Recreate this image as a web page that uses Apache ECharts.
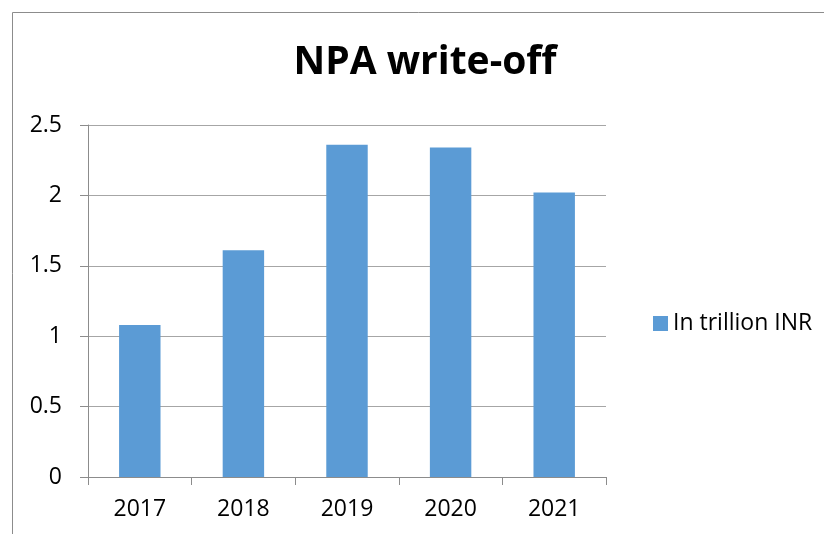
<!DOCTYPE html>
<html><head><meta charset="utf-8">
<script src="https://cdn.jsdelivr.net/npm/echarts@6/dist/echarts.min.js"></script>
<style>html,body{margin:0;padding:0;background:#fff}#c{width:824px;height:534px}</style>
</head><body><div id="c"></div>
<script>
const categories = ['2017', '2018', '2019', '2020', '2021'];
const seriesName = 'In trillion INR';
const values = [1.08, 1.61, 2.36, 2.34, 2.02];
const titleText = 'NPA write-off';

const chart = echarts.init(document.getElementById('c'), null, {renderer: 'canvas'});
const font = '"Open Sans", "Noto Sans", sans-serif';
chart.setOption({
  animation: false,
  backgroundColor: '#fff',
  graphic: [{
    type: 'rect', shape: {x: 12.5, y: 12.5, width: 900, height: 600},
    style: {fill: 'none', stroke: '#8c8c8c', lineWidth: 1}, silent: true
  }],
  title: {
    text: titleText, left: 420, top: 38, textAlign: 'center',
    textStyle: {fontFamily: font, fontWeight: 'bold', fontSize: 39, color: '#000'}
  },
  legend: {
    data: [seriesName], left: 648, top: 307, itemWidth: 15, itemHeight: 15, itemGap: 8,
    icon: 'rect',
    textStyle: {fontFamily: font, fontSize: 23, color: '#000', padding: [0, 0, 0, 0]}
  },
  grid: {left: 88, right: 218, top: 125, bottom: 57, containLabel: false},
  xAxis: {
    type: 'category', data: categories,
    axisLine: {lineStyle: {color: '#8c8c8c', width: 1}},
    axisTick: {show: true, length: 8, alignWithLabel: false, lineStyle: {color: '#8c8c8c'}},
    axisLabel: {fontFamily: font, fontSize: 23, color: '#000', margin: 21}
  },
  yAxis: {
    type: 'value', min: 0, max: 2.5, interval: 0.5,
    axisLine: {show: true, lineStyle: {color: '#8c8c8c', width: 1}},
    axisTick: {show: true, length: 8, lineStyle: {color: '#8c8c8c'}},
    axisLabel: {fontFamily: font, fontSize: 23, color: '#000', margin: 26},
    splitLine: {lineStyle: {color: '#a6a6a6', width: 1}}
  },
  series: [{
    name: seriesName, type: 'bar', data: values, barWidth: '40%',
    itemStyle: {color: '#5b9bd5'}
  }]
});
</script></body></html>
